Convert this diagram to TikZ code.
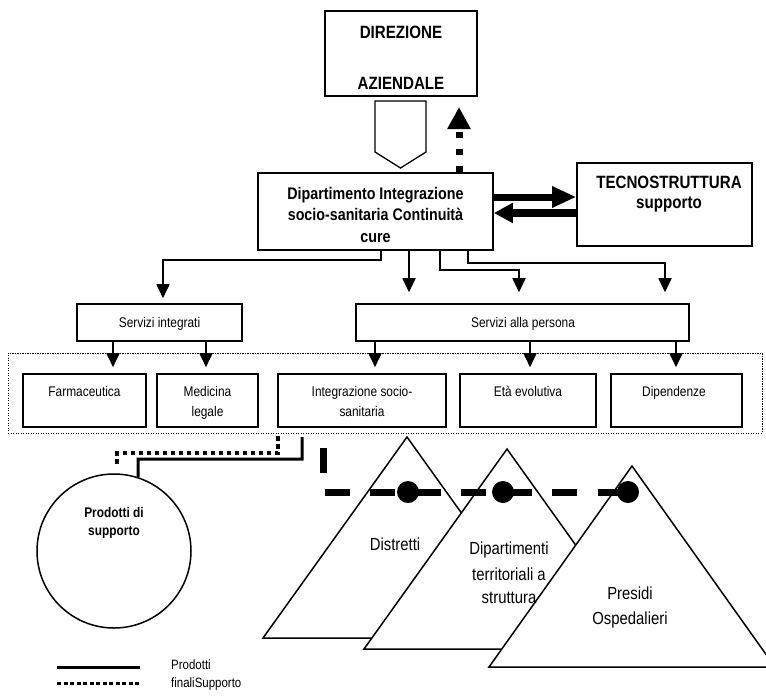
\documentclass[tikz,border=0pt]{standalone}
\usepackage{fontspec}
\setmainfont{Liberation Sans}[FakeStretch=0.85]
\usetikzlibrary{arrows.meta}
\begin{document}
\begin{tikzpicture}[x=1pt,y=-1pt,
  box/.style={draw, line width=1.6pt, inner sep=0pt, fill=white},
  txt/.style={font=\fontsize{14pt}{16pt}\selectfont, inner sep=0pt, anchor=base},
  txtbig/.style={font=\fontsize{17.5pt}{20pt}\selectfont, inner sep=0pt, anchor=base},
  txtleg/.style={font=\fontsize{13.5pt}{16pt}\selectfont, inner sep=0pt, anchor=base west},
  bold/.style={font=\bfseries\fontsize{16.8pt}{19pt}\selectfont, inner sep=0pt, anchor=base},
  boldbig/.style={font=\bfseries\fontsize{17.8pt}{20pt}\selectfont, inner sep=0pt, anchor=base},
  boldsmall/.style={font=\bfseries\fontsize{14pt}{16pt}\selectfont, inner sep=0pt, anchor=base},
  conn/.style={line width=1.8pt, -{Triangle[width=13pt,length=14pt]}},
  thickarrow/.style={line width=7pt, -{Triangle[width=20pt,length=24pt]}},
  pyramid/.style={draw, line width=1.5pt, fill=white, line join=miter},
  dot/.style={circle, fill=black, inner sep=0pt, minimum size=22pt}]
\useasboundingbox (0,0) rectangle (766,697);

% ---- direzione ----
\node[box, minimum width=152pt, minimum height=85pt] (dir) at (401,53.5) {};
\node[boldbig] (dir1) at (401,38.5) {DIREZIONE};
\node[boldbig] (dir2) at (401,89.5) {AZIENDALE};

% block arrow pointing down
\draw[line width=1.3pt, fill=white, line join=miter]
  (375,101) -- (426,101) -- (426,152) -- (400.5,168) -- (375,152) -- cycle;

% ---- dipartimento ----
\node[box, minimum width=235pt, minimum height=77pt] (main) at (375.5,211.5) {};
\node[bold] (m1) at (375.5,199) {Dipartimento Integrazione};
\node[bold] (m2) at (375.5,220) {socio-sanitaria Continuità};
\node[bold] (m3) at (375.5,242.5) {cure};

% ---- tecnostruttura ----
\node[box, minimum width=175pt, minimum height=83pt] (tec) at (664.5,204.5) {};
\node[boldbig] (t1) at (669,188.5) {TECNOSTRUTTURA};
\node[boldbig] (t2) at (669,208.5) {supporto};

% dotted upward arrow to direzione
\coordinate (upTip) at (459,107);
\draw[line width=7pt, dash pattern=on 6pt off 11pt,
      -{Triangle[width=22pt,length=22pt]}] (main.north -| upTip) -- (upTip);

% exchange with tecnostruttura
\draw[thickarrow] (main.east |- 0,197) -- (tec.west |- 0,197);
\draw[line width=7.5pt, -{Triangle[width=19pt,length=19pt]}]
  (tec.west |- 0,213) -- (main.east |- 0,213);

% ---- servizi ----
\node[box, minimum width=165pt, minimum height=37pt] (si) at (159.5,322.5) {};
\node[txt] (si1) at (159.5,327) {Servizi integrati};
\node[box, minimum width=333pt, minimum height=37pt] (sp) at (522.5,322.5) {};
\node[txt] (sp1) at (523,327) {Servizi alla persona};

\draw[conn, shorten >=5pt] (main.south -| 381,0) -- (381,260) -- (163,260) -- (si.north -| 163,0);
\draw[conn, shorten >=11pt] (main.south -| 409,0) -- (sp.north -| 409,0);
\draw[conn, shorten >=11pt] (main.south -| 440,0) -- (440,270) -- (519,270) -- (sp.north -| 519,0);
\draw[conn, shorten >=11pt] (main.south -| 468,0) -- (468,263) -- (665,263) -- (sp.north -| 665,0);

% ---- unit frame ----
\node[draw, line width=0.9pt, dash pattern=on 1.2pt off 1.3pt, minimum width=754pt,
      minimum height=80pt, inner sep=0pt] (frame) at (385,393) {};

\node[box, minimum width=123pt, minimum height=53pt] (farm) at (84.5,400.5) {};
\node[txt] (farm1) at (84.5,396) {Farmaceutica};
\node[box, minimum width=101pt, minimum height=53pt] (med) at (207.5,400.5) {};
\node[txt] (med1) at (207.5,396) {Medicina};
\node[txt] (med2) at (207.5,416) {legale};
\node[box, minimum width=168pt, minimum height=53pt] (integ) at (362,400.5) {};
\node[txt] (integ1) at (362,396) {Integrazione socio-};
\node[txt] (integ2) at (362,416) {sanitaria};
\node[box, minimum width=136pt, minimum height=53pt] (eta) at (528,400.5) {};
\node[txt] (eta1) at (528,396) {Età evolutiva};
\node[box, minimum width=131pt, minimum height=53pt] (dip) at (676.5,400.5) {};
\node[txt] (dip1) at (674,396) {Dipendenze};

\draw[conn, shorten >=6pt] (si.south -| 113,0) -- (farm.north -| 113,0);
\draw[conn, shorten >=6pt] (si.south -| 206,0) -- (med.north -| 206,0);
\draw[conn, shorten >=6pt] (sp.south -| 375,0) -- (integ.north -| 375,0);
\draw[conn, shorten >=6pt] (sp.south -| 530,0) -- (eta.north -| 530,0);
\draw[conn, shorten >=6pt] (sp.south -| 676,0) -- (dip.north -| 676,0);

% ---- prodotti di supporto ----
\node[circle, draw, line width=1.5pt, minimum size=154pt, inner sep=0pt] (prod) at (114,551) {};
\node[boldsmall] (p1) at (114,517) {Prodotti di};
\node[boldsmall] (p2) at (114,535.5) {supporto};

\coordinate (solidStart) at (302,437);
\coordinate (dotStart) at (278,436);
\coordinate (dotEnd) at (117,467);
\draw[line width=3pt] (solidStart) -- (302,459) -- (138,459) -- (prod.72);
\draw[line width=3.5pt, dash pattern=on 4.5pt off 3.5pt] (dotStart) -- (278,453) -- (117,453) -- (dotEnd);

% ---- strutture ----
\draw[pyramid] (407,437) -- (263,638) -- (551,638) -- cycle;
\draw[pyramid] (507,449) -- (364,649) -- (650,649) -- cycle;
\draw[pyramid] (632,466) -- (489,667) -- (775,667) -- cycle;
\node[txtbig] (tr1) at (395,550) {Distretti};
\node[txtbig] (tr2a) at (509,554) {Dipartimenti};
\node[txtbig] (tr2b) at (509,580) {territoriali a};
\node[txtbig] (tr2c) at (509,603) {struttura};
\node[txtbig] (tr3a) at (630,599) {Presidi};
\node[txtbig] (tr3b) at (630,624) {Ospedalieri};

\node[dot] (d1) at (408,492) {};
\node[dot] (d2) at (503,492) {};
\node[dot] (d3) at (628,492) {};
\coordinate (dashTop) at (323,448);
\draw[line width=7pt, dash pattern=on 25pt off 20.5pt] (dashTop) -- (dashTop |- d3.center) -- (d3.center);

% ---- legenda ----
\coordinate (lsA) at (57,667);
\coordinate (lsB) at (140,667);
\coordinate (ldA) at (57,683);
\coordinate (ldB) at (140,683);
\draw[line width=3pt] (lsA) -- (lsB);
\draw[line width=3pt, dash pattern=on 4pt off 2.5pt] (ldA) -- (ldB);
\node[txtleg] (leg1) at (171,669.5) {Prodotti};
\node[txtleg] (leg2) at (171,687.5) {finaliSupporto};
\end{tikzpicture}
\end{document}
